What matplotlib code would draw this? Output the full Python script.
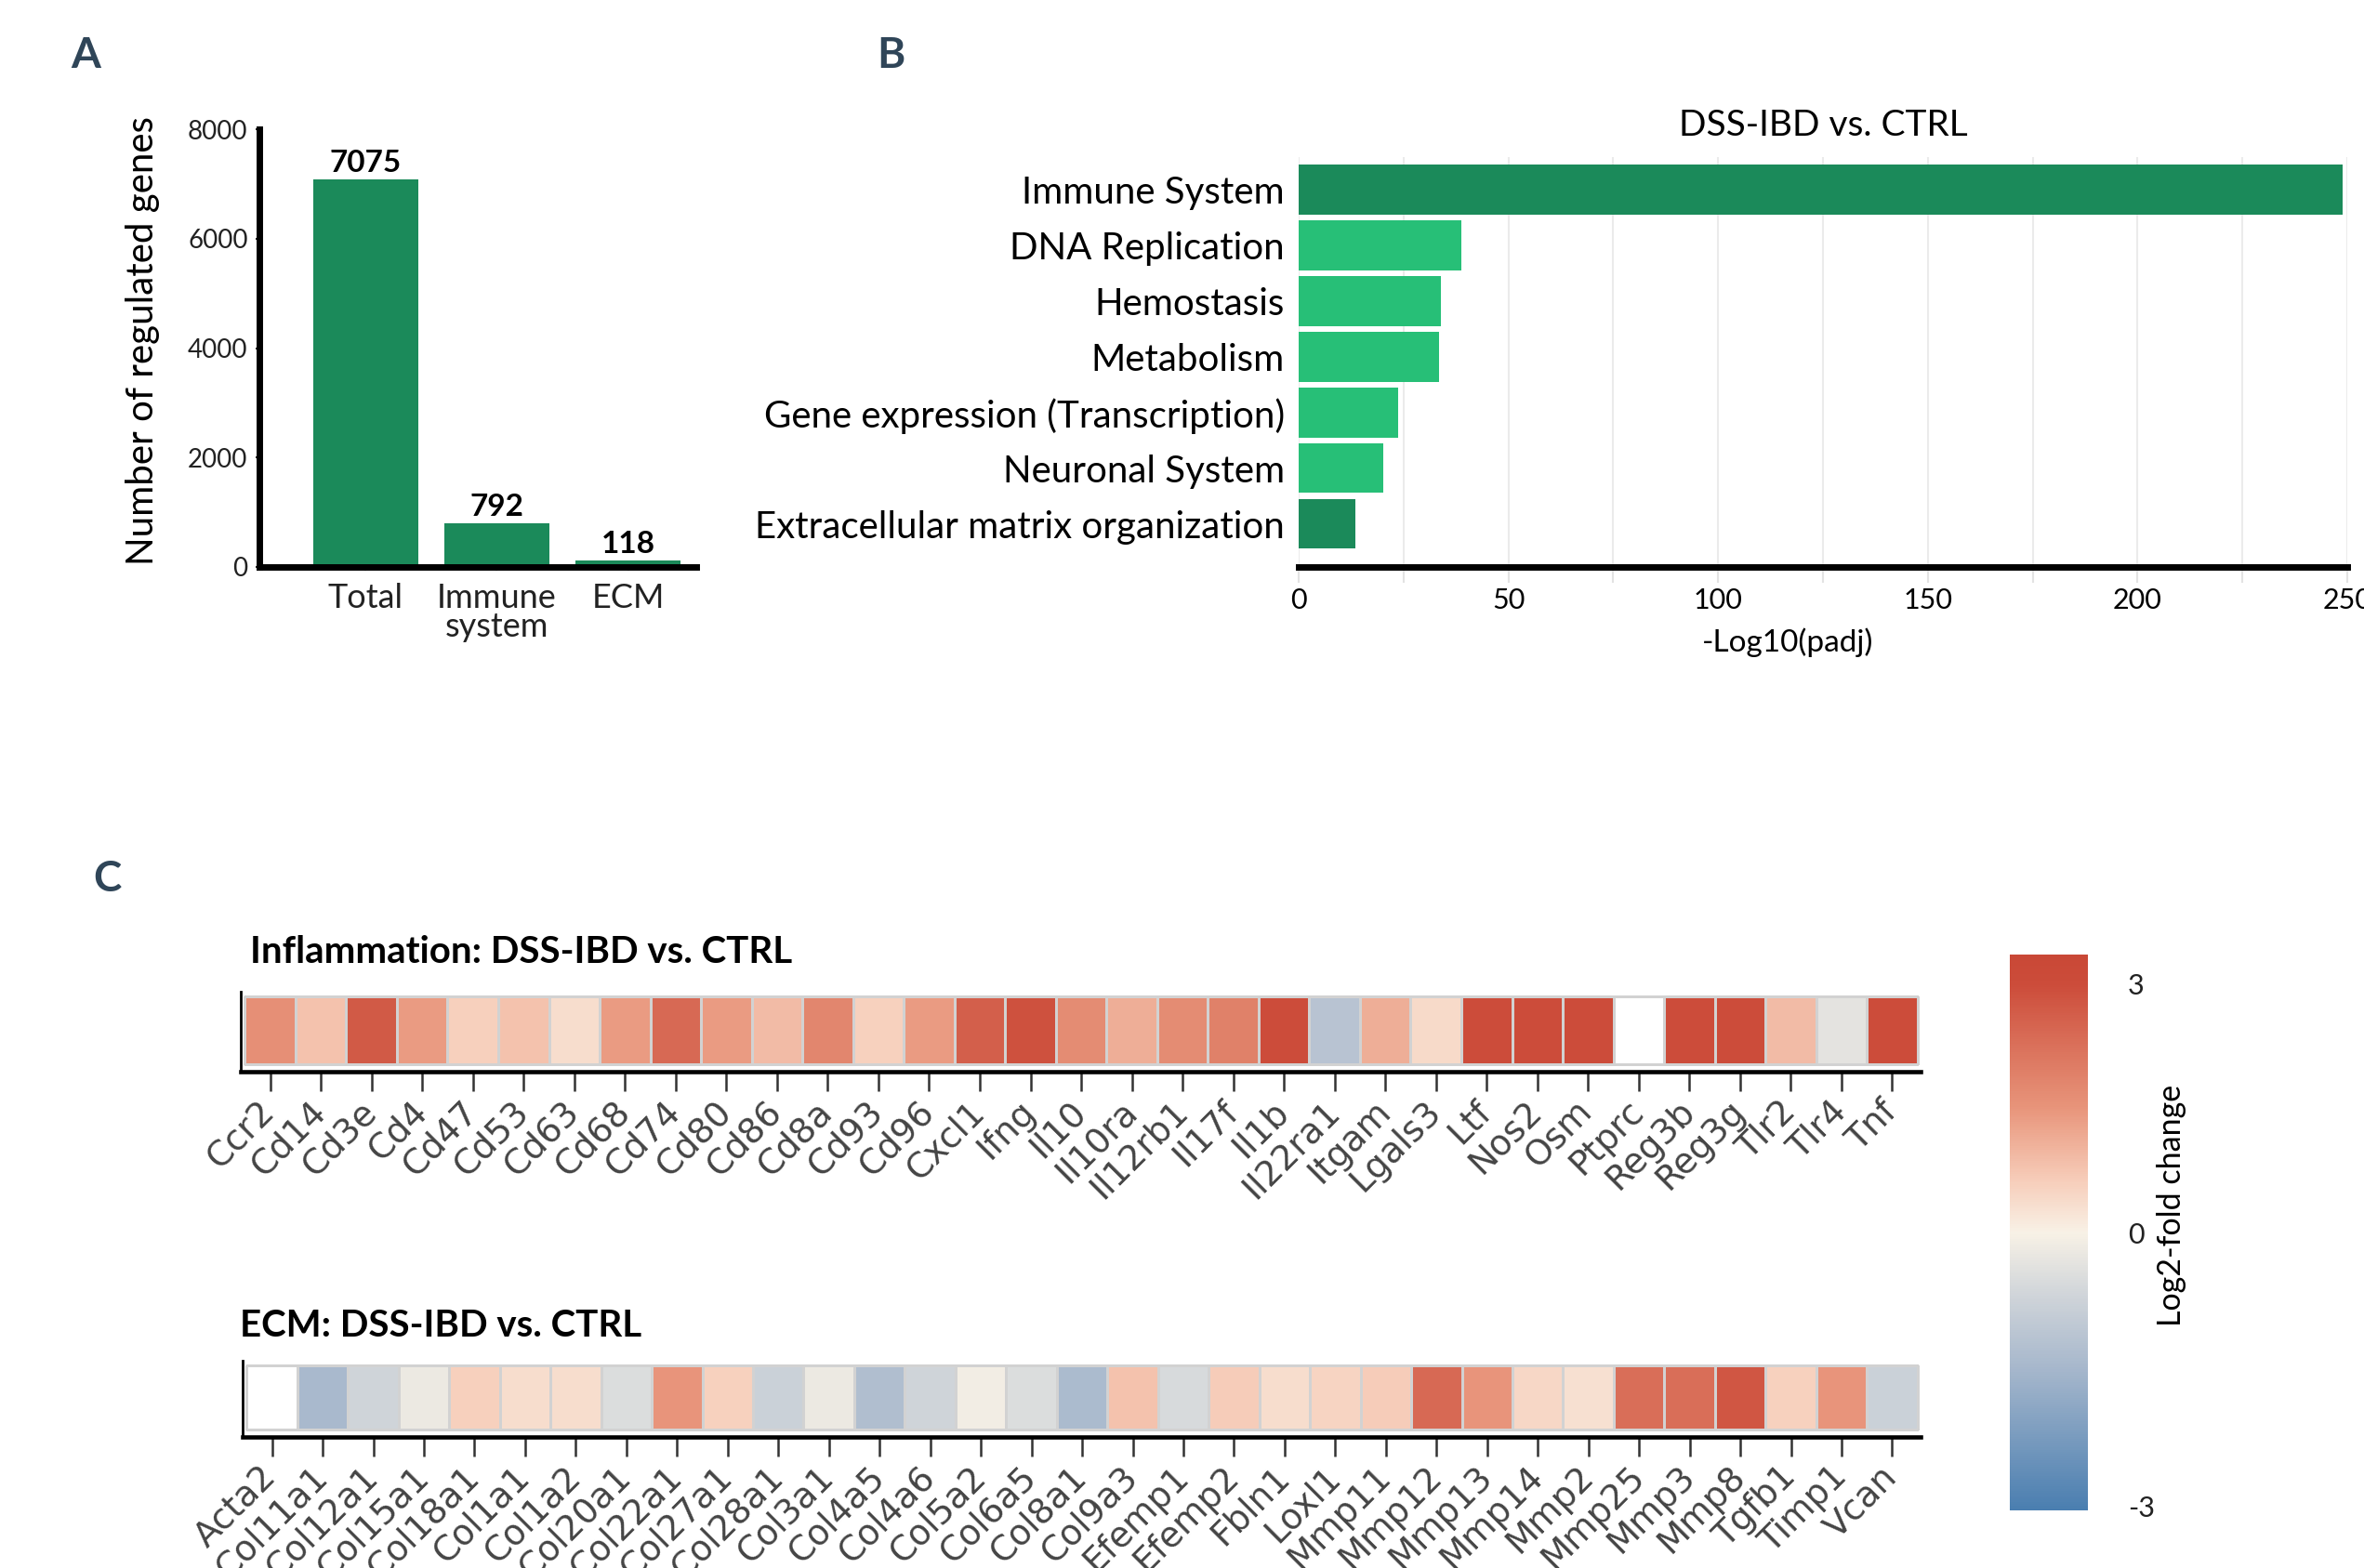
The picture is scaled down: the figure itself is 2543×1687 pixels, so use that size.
import numpy as np
import matplotlib.pyplot as plt
from matplotlib.colors import LinearSegmentedColormap, TwoSlopeNorm
from matplotlib.ticker import MultipleLocator

plt.rcParams['font.family'] = ['Lato', 'DejaVu Sans']
plt.rcParams['axes.unicode_minus'] = False

# ---- data ----
count_cats = ['Total', 'Immune\nsystem', 'ECM']
count_vals = [7075, 792, 118]

path_names = ['Immune System', 'DNA Replication', 'Hemostasis', 'Metabolism',
              'Gene expression (Transcription)', 'Neuronal System',
              'Extracellular matrix organization']
path_logp = [249, 38.8, 33.8, 33.4, 23.7, 20.1, 13.6]
path_dark = [True, False, False, False, False, False, True]

infl_genes = ['Ccr2', 'Cd14', 'Cd3e', 'Cd4', 'Cd47', 'Cd53', 'Cd63', 'Cd68', 'Cd74',
              'Cd80', 'Cd86', 'Cd8a', 'Cd93', 'Cd96', 'Cxcl1', 'Ifng', 'Il10', 'Il10ra',
              'Il12rb1', 'Il17f', 'Il1b', 'Il22ra1', 'Itgam', 'Lgals3', 'Ltf', 'Nos2',
              'Osm', 'Ptprc', 'Reg3b', 'Reg3g', 'Tlr2', 'Tlr4', 'Tnf']
infl_lfc = [1.6, 0.8, 2.7, 1.4, 0.6, 0.8, 0.35, 1.4, 2.4, 1.4, 0.9, 1.8, 0.55, 1.4,
            2.6, 2.9, 1.7, 1.1, 1.7, 1.9, 3.0, -1.15, 1.1, 0.4, 3.0, 3.0, 3.0, np.nan,
            3.0, 3.0, 0.9, -0.35, 3.0]

ecm_genes = ['Acta2', 'Col11a1', 'Col12a1', 'Col15a1', 'Col18a1', 'Col1a1', 'Col1a2',
             'Col20a1', 'Col22a1', 'Col27a1', 'Col28a1', 'Col3a1', 'Col4a5', 'Col4a6',
             'Col5a2', 'Col6a5', 'Col8a1', 'Col9a3', 'Efemp1', 'Efemp2', 'Fbln1', 'Loxl1',
             'Mmp11', 'Mmp12', 'Mmp13', 'Mmp14', 'Mmp2', 'Mmp25', 'Mmp3', 'Mmp8', 'Tgfb1',
             'Timp1', 'Vcan']
ecm_lfc = [np.nan, -1.45, -0.7, -0.2, 0.6, 0.35, 0.35, -0.5, 1.5, 0.55, -0.8, -0.2,
           -1.3, -0.7, -0.1, -0.5, -1.4, 0.8, -0.55, 0.65, 0.35, 0.5, 0.65, 2.4, 1.5,
           0.45, 0.3, 2.3, 2.3, 2.8, 0.55, 1.5, -0.8]

W, H = 2543, 1687


def box(x0, y0, x1, y1):
    return [x0 / W, 1 - y1 / H, (x1 - x0) / W, (y1 - y0) / H]


dark_green = '#1b8a5a'
light_green = '#27bf77'
letter_col = '#2f4558'

# colour scale for log2 fold change
norm = TwoSlopeNorm(vmin=-3.05, vcenter=0, vmax=3.35)
nodes = [(-3.05, '#4a7eb0'), (-1.5, '#a6b7cc'), (-0.6, '#d5d8db'), (0, '#f8f1e6'),
         (0.6, '#f7cfbc'), (1.5, '#e8957b'), (3.0, '#cc4c3a'), (3.35, '#c94836')]
cmap = LinearSegmentedColormap.from_list('lfc', [(float(norm(v)), c) for v, c in nodes])
cmap.set_bad('white')

fig = plt.figure(figsize=(W / 100, H / 100), dpi=100)

# ---- panel A ----
ax = fig.add_axes(box(279, 139, 749, 610))
ax.bar(range(len(count_vals)), count_vals, width=0.8, color=dark_green)
for i, v in enumerate(count_vals):
    ax.text(i, v + 60, str(v), ha='center', va='bottom', fontsize=24, fontweight='bold')
ax.set_xlim(-0.81, 2.52)
ax.set_ylim(0, 8000)
ax.set_yticks([0, 2000, 4000, 6000, 8000])
ax.set_xticks(range(len(count_cats)))
ax.set_xticklabels(count_cats, linespacing=0.95)
for s in ['top', 'right']:
    ax.spines[s].set_visible(False)
for s in ['left', 'bottom']:
    ax.spines[s].set_linewidth(5)
ax.tick_params(axis='y', labelsize=20, length=3, width=1.5, pad=6, colors='#222')
ax.tick_params(axis='x', labelsize=26, length=3, width=1.5, pad=9, colors='#222')
fig.text(154 / W, 1 - 367 / H, 'Number of regulated genes', rotation=90,
         ha='center', va='center', fontsize=29)
fig.text(92 / W, 1 - 60 / H, 'A', ha='center', va='center', fontsize=33,
         fontweight='bold', color=letter_col)

# ---- panel B ----
ax = fig.add_axes(box(1397, 169, 2525, 610))
ypos = np.arange(len(path_names))
ax.barh(ypos, path_logp, height=0.89,
        color=[dark_green if d else light_green for d in path_dark], zorder=3)
ax.set_xlim(0, 250)
ax.set_ylim(6.77, -0.58)
ax.set_yticks(ypos)
ax.set_yticklabels(path_names)
ax.xaxis.set_major_locator(MultipleLocator(50))
ax.xaxis.set_minor_locator(MultipleLocator(25))
ax.grid(axis='x', which='both', color='#ebebeb', linewidth=1.5, zorder=0)
for s in ['top', 'right', 'left']:
    ax.spines[s].set_visible(False)
ax.spines['bottom'].set_linewidth(5)
ax.tick_params(axis='y', length=0, labelsize=29, pad=11)
ax.tick_params(axis='x', which='both', length=12, width=1.5, color='#e3e3e3',
               labelsize=22, pad=4)
fig.text(1961 / W, 1 - 135 / H, 'DSS-IBD vs. CTRL', ha='center', va='center', fontsize=28)
fig.text(1923 / W, 1 - 691 / H, '-Log10(padj)', ha='center', va='center', fontsize=24)
fig.text(958 / W, 1 - 60 / H, 'B', ha='center', va='center', fontsize=33,
         fontweight='bold', color=letter_col)

# ---- panel C ----
fig.text(115 / W, 1 - 946 / H, 'C', ha='center', va='center', fontsize=33,
         fontweight='bold', color=letter_col)


def heat_row(rect, genes, vals, title, title_xy):
    ax = fig.add_axes(box(*rect))
    data = np.ma.masked_invalid(np.array([vals], dtype=float))
    ax.pcolormesh(np.arange(len(genes) + 1) - 0.5, [0, 1], data, cmap=cmap, norm=norm,
                  edgecolors='#d2d2d2', linewidth=1)
    ax.set_xlim(-0.58, len(genes) - 0.44)
    ax.set_ylim(-0.11, 1.07)
    ax.set_yticks([])
    ax.set_xticks(range(len(genes)))
    ax.set_xticklabels(genes, rotation=45, ha='right', va='center', rotation_mode='anchor',
                       fontsize=27, color='#444444', family='DejaVu Sans')
    ax.tick_params(axis='x', length=15, width=1.8, color='#333333', pad=12)
    for s in ['top', 'right']:
        ax.spines[s].set_visible(False)
    ax.spines['left'].set_linewidth(2)
    ax.spines['bottom'].set_linewidth(3.3)
    fig.text(title_xy[0] / W, 1 - title_xy[1] / H, title, ha='left', va='center',
             fontsize=29, fontweight='bold')


heat_row((259, 1067, 2066, 1153), infl_genes, infl_lfc,
         'Inflammation: DSS-IBD vs. CTRL', (269, 1025))
heat_row((261, 1464, 2066, 1546), ecm_genes, ecm_lfc,
         'ECM: DSS-IBD vs. CTRL', (258, 1426))

# colour bar
cax = fig.add_axes(box(2162, 1027, 2246, 1625))
sm = plt.cm.ScalarMappable(cmap=cmap, norm=norm)
cb = fig.colorbar(sm, cax=cax, ticks=[-3, 0, 3])
cb.outline.set_visible(False)
cax.tick_params(length=0, labelsize=22, pad=31, colors='#222')
fig.text(2336 / W, 1 - 1297 / H, 'Log2-fold change', rotation=90, ha='center',
         va='center', fontsize=24.5)

fig.savefig('out.png', dpi=100)
